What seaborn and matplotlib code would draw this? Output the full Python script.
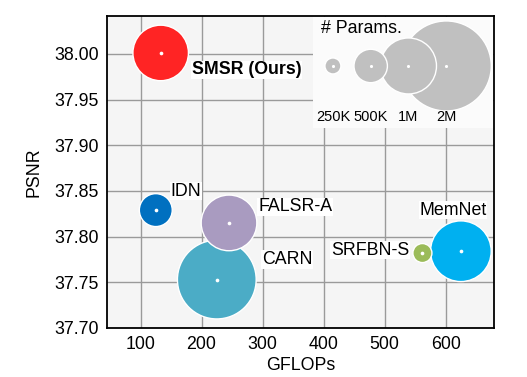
import numpy as np
import pandas as pd
import matplotlib
matplotlib.use("Agg")
import matplotlib.pyplot as plt
import seaborn as sns

# data
models = ["SMSR (Ours)", "IDN", "FALSR-A", "CARN", "SRFBN-S", "MemNet"]
gflops = [133, 125, 245, 225, 562, 625]
psnr = [38.001, 37.829, 37.815, 37.753, 37.782, 37.784]
params_k = [985, 490, 990, 1590, 282, 1100]
colors = ["#FF2424", "#0070C0", "#A99BC0", "#4BACC6", "#9BBB59", "#00B0F0"]

legend_labels = ["250K", "500K", "1M", "2M"]
legend_params_k = [250, 500, 1000, 2000]

# bubble radius (px) for each legend entry -> piecewise scale in log2(params)
LEGEND_R = [8, 16.7, 28, 45]
PX2PT = 0.72


def bubble_area(p):
    r = np.interp(np.log2(p), np.log2(legend_params_k), LEGEND_R)
    return (2 * r * PX2PT) ** 2


sns.set_style("white", {"text.color": "black", "axes.labelcolor": "black",
                        "xtick.color": "black", "ytick.color": "black"})
plt.rcParams["font.family"] = ["Liberation Sans", "DejaVu Sans"]

fig = plt.figure(figsize=(5.27, 3.77), dpi=100)
ax = fig.add_axes([0.203, 0.130, 0.734, 0.828])
ax.set_facecolor("#F5F5F5")

df = pd.DataFrame({"model": models, "gflops": gflops, "psnr": psnr, "params": params_k})
df["area"] = bubble_area(df["params"].to_numpy(float))
amin, amax = df["area"].min(), df["area"].max()
# big bubbles first so the small ones sit on top
df_draw = df.sort_values("area", ascending=False)

sns.scatterplot(data=df_draw, x="gflops", y="psnr", hue="model", palette=dict(zip(models, colors)),
                size="area", sizes=(amin, amax), size_norm=(amin, amax),
                edgecolor="white", linewidth=1, alpha=1, legend=False, ax=ax, zorder=3)
sns.scatterplot(data=df, x="gflops", y="psnr", color="white", s=7, linewidth=0,
                legend=False, ax=ax, zorder=4)

# label offsets in pixels from bubble centre
offsets = {"SMSR (Ours)": (31, -17, "left"), "IDN": (15, 19, "left"),
           "FALSR-A": (29, 16, "left"), "CARN": (45, 20, "left"),
           "SRFBN-S": (-13, 3, "right"), "MemNet": (-8, 41, "center")}
for m, x, y in zip(models, gflops, psnr):
    dx, dy, ha = offsets[m]
    ax.annotate(m, (x, y), xytext=(dx, dy), textcoords="offset pixels", ha=ha, va="center",
                fontsize=12.8, fontweight="bold" if "Ours" in m else "normal", color="black",
                bbox=dict(facecolor="white", edgecolor="none", pad=0.5), zorder=5)

ax.set_xlim(45, 679)
ax.set_ylim(37.70, 38.0416)
ax.set_xticks([100, 200, 300, 400, 500, 600])
ax.set_yticks(np.arange(37.70, 38.001, 0.05))
ax.yaxis.set_major_formatter(matplotlib.ticker.FormatStrFormatter("%.2f"))
ax.grid(True, color="#9A9A9A", linewidth=1)
ax.set_axisbelow(True)
ax.tick_params(length=0, labelsize=12.8, pad=6)
ax.set_xlabel("GFLOPs", fontsize=12.8, labelpad=3)
ax.set_ylabel("PSNR", fontsize=12.8, labelpad=8)
for sp in ax.spines.values():
    sp.set_color("black")
    sp.set_linewidth(1.3)
    sp.set_zorder(10)

# bubble-size legend as an inset
lax = fig.add_axes([0.594, 0.660, 0.3415, 0.296])
lax.set_facecolor("#FBFBFB")
ldf = pd.DataFrame({"label": legend_labels, "params": legend_params_k, "pos": range(len(legend_labels))})
ldf["area"] = bubble_area(ldf["params"].to_numpy(float))
ldf["y"] = 0
lmin, lmax = ldf["area"].min(), ldf["area"].max()
ldf_draw = ldf.iloc[::-1]
sns.scatterplot(data=ldf_draw, x="pos", y="y", size="area", sizes=(lmin, lmax), size_norm=(lmin, lmax),
                color="#C0C0C0", edgecolor="white", linewidth=1, legend=False, ax=lax, zorder=3)
sns.scatterplot(data=ldf, x="pos", y="y", color="white", s=5, linewidth=0, legend=False, ax=lax, zorder=4)
for i, lab in enumerate(legend_labels):
    lax.text(i, -52, lab, ha="center", va="center", fontsize=10.5, color="black")
lax.text(-0.32, 38, "# Params.", ha="left", va="center", fontsize=12.8, color="black")
lax.set_xlim(-0.526, 4.237)
lax.set_ylim(-63, 50)
lax.set_xticks([])
lax.set_yticks([])
lax.set_xlabel("")
lax.set_ylabel("")
for sp in lax.spines.values():
    sp.set_visible(False)

fig.savefig("out.png", dpi=100)
